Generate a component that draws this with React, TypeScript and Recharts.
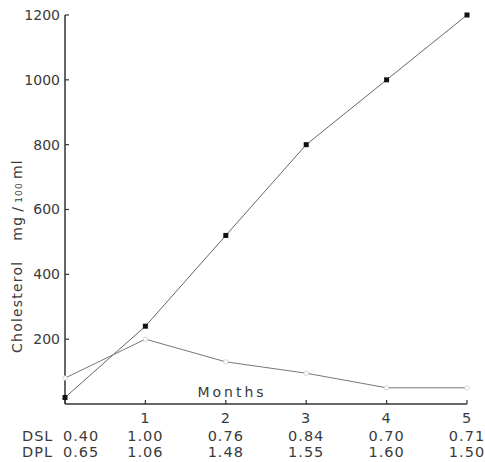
import React from 'react';
import { LineChart, Line, XAxis, YAxis, Customized } from 'recharts';

const months = [0, 1, 2, 3, 4, 5];
const cholesterolA = [20, 240, 520, 800, 1000, 1200];
const cholesterolB = [80, 200, 130, 95, 50, 50];
const dslValues = ['0.40', '1.00', '0.76', '0.84', '0.70', '0.71'];
const dplValues = ['0.65', '1.06', '1.48', '1.55', '1.60', '1.50'];
const yTicks = [200, 400, 600, 800, 1000, 1200];

const data = months.map((m, i) => ({
  month: m,
  a: cholesterolA[i],
  b: cholesterolB[i],
}));

const FONT = '"DejaVu Sans", sans-serif';
const INK = '#3a3a3a';

const SquareDot = (props: any) => {
  const { cx, cy } = props;
  if (cx == null || cy == null) return null;
  return <rect x={cx - 2.5} y={cy - 2.5} width={5} height={5} fill="#111" />;
};

const OpenDot = (props: any) => {
  const { cx, cy } = props;
  if (cx == null || cy == null) return null;
  return <circle cx={cx} cy={cy} r={2.2} fill="#fff" stroke="#ccc" strokeWidth={0.8} />;
};

const MonthTick = (props: any) => {
  const { x, y, payload } = props;
  const i = months.indexOf(payload.value);
  const first = i === 0;
  const anchor = first ? 'start' : 'middle';
  const vx = first ? x - 2 : x;
  return (
    <g fontFamily={FONT} fontSize={14.5} fill={INK} letterSpacing={1}>
      {!first && (
        <text x={x} y={y + 19} textAnchor="middle">{payload.value}</text>
      )}
      {first && (
        <>
          <text x={22} y={y + 37} textAnchor="start">DSL</text>
          <text x={22} y={y + 53} textAnchor="start">DPL</text>
        </>
      )}
      <text x={vx} y={y + 37} textAnchor={anchor}>{dslValues[i]}</text>
      <text x={vx} y={y + 53} textAnchor={anchor}>{dplValues[i]}</text>
    </g>
  );
};

const Labels = () => (
  <g fontFamily={FONT} fill={INK}>
    <text x={232} y={397} textAnchor="middle" fontSize={14} letterSpacing={3}>Months</text>
    <text
      x={0}
      y={0}
      transform="translate(22, 256) rotate(-90)"
      textAnchor="middle"
      fontSize={14}
      letterSpacing={1.2}
    >
      <tspan>Cholesterol</tspan>
      <tspan dx={20}>mg</tspan>
      <tspan dx={4}>/</tspan>
      <tspan dx={3} fontSize={9}>100</tspan>
      <tspan dx={3}>ml</tspan>
    </text>
  </g>
);

export default function App() {
  return (
    <div style={{ position: 'absolute', left: 0, top: 0, background: '#fff' }}>
      <LineChart
        width={485}
        height={462}
        data={data}
        margin={{ top: 15, right: 18, bottom: 0, left: 0 }}
      >
        <XAxis
          dataKey="month"
          type="number"
          domain={[0, 5]}
          ticks={months}
          height={58}
          axisLine={{ stroke: '#333', strokeWidth: 1.5 }}
          tickLine={{ stroke: '#333', strokeWidth: 1.2 }}
          tickSize={-4}
          tickMargin={4}
          tick={<MonthTick />}
          interval={0}
        />
        <YAxis
          type="number"
          domain={[0, 1200]}
          ticks={yTicks}
          width={65}
          axisLine={{ stroke: '#333', strokeWidth: 1.5 }}
          tickLine={{ stroke: '#333', strokeWidth: 1.2 }}
          tickSize={-4}
          tickMargin={9}
          tick={{ fontFamily: FONT, fontSize: 14, fill: INK }}
          interval={0}
        />
        <Line
          type="linear"
          dataKey="a"
          stroke="#666"
          strokeWidth={1}
          dot={<SquareDot />}
          isAnimationActive={false}
        />
        <Line
          type="linear"
          dataKey="b"
          stroke="#777"
          strokeWidth={1}
          dot={<OpenDot />}
          isAnimationActive={false}
        />
        <Customized component={<Labels />} />
      </LineChart>
    </div>
  );
}
